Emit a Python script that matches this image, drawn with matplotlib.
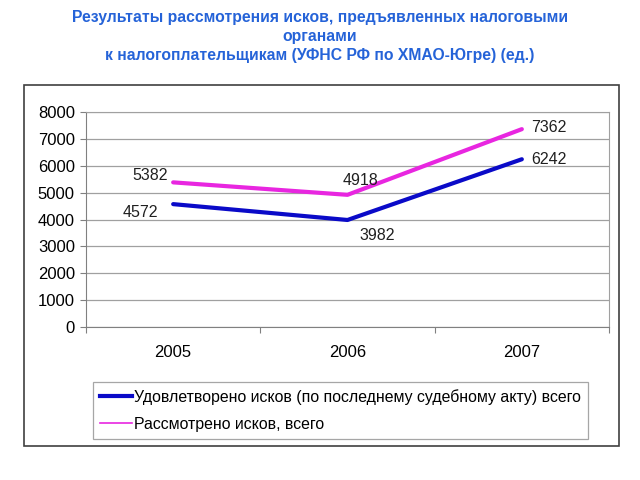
import matplotlib
matplotlib.use('Agg')
import matplotlib.pyplot as plt
from matplotlib.lines import Line2D
from matplotlib.patches import Rectangle

plt.rcParams['font.family'] = ['Liberation Sans', 'DejaVu Sans']

years = ['2005', '2006', '2007']
satisfied = [4572, 3982, 6242]
considered = [5382, 4918, 7362]
satisfied_name = 'Удовлетворено исков (по последнему судебному акту) всего'
considered_name = 'Рассмотрено исков, всего'
title = ('Результаты рассмотрения исков, предъявленных налоговыми\nорганами\n'
         'к налогоплательщикам (УФНС РФ по ХМАО-Югре) (ед.)')

blue = '#0a0ac8'
pink = '#e826e0'

fig = plt.figure(figsize=(6.4, 4.8), dpi=100)
fig.text(0.5, 1 - 36.5 / 480, title, ha='center', va='center', color='#2563d8',
         fontsize=11.3, fontweight='bold', linespacing=1.32)

# outer chart frame
fig.patches.append(Rectangle((24 / 640, 1 - 446 / 480), 595 / 640, 361 / 480,
                             transform=fig.transFigure, fill=False,
                             edgecolor='#404040', linewidth=1.2))

ax = fig.add_axes([86 / 640, 1 - 327 / 480, 523 / 640, 215 / 480])
x = [i + 0.5 for i in range(len(years))]
ax.plot(x, satisfied, color=blue, lw=3, solid_capstyle='round')
ax.plot(x, considered, color=pink, lw=3, solid_capstyle='round')

ax.set_xlim(0, 3)
ax.set_ylim(0, 8000)
ax.set_yticks(range(0, 8001, 1000))
ax.set_xticks([0, 1, 2, 3])
ax.set_xticklabels([])
ax.set_xticks(x, minor=True)
ax.set_xticklabels(years, minor=True)
ax.tick_params(axis='x', which='minor', length=0, pad=13, labelsize=12)
ax.tick_params(axis='x', which='major', length=4, color='#808080')
ax.tick_params(axis='y', length=4, color='#808080', labelsize=12, pad=4)
ax.grid(axis='y', color='#a0a0a0', lw=0.9)
ax.set_axisbelow(True)
for side in ['top', 'right']:
    ax.spines[side].set_color('#a0a0a0')
for side in ['left', 'bottom']:
    ax.spines[side].set_color('#808080')

offs_sat = [(-11, -6), (8.5, -11.5), (7, 0)]
offs_con = [(-3.5, 5), (-3.5, 10), (7, 1.5)]
for xi, v, o in zip(x, satisfied, offs_sat):
    ax.annotate(str(v), (xi, v), xytext=o, textcoords='offset points',
                ha='right' if o[0] < -5 else 'left', va='center', fontsize=11.5,
                color='#202020')
for i, (xi, v, o) in enumerate(zip(x, considered, offs_con)):
    ax.annotate(str(v), (xi, v), xytext=o, textcoords='offset points',
                ha='right' if i == 0 else 'left', va='center', fontsize=11.5,
                color='#202020')

handles = [Line2D([], [], color=blue, lw=3), Line2D([], [], color=pink, lw=1.2)]
leg = fig.legend(handles, [satisfied_name, considered_name], loc='upper left',
                 bbox_to_anchor=(93 / 640, 1 - 382 / 480), fontsize=11.4,
                 frameon=True, fancybox=False, edgecolor='#909090',
                 handlelength=2.0, handletextpad=0.15, borderaxespad=0,
                 labelspacing=0.75, borderpad=0.45)
leg.get_frame().set_linewidth(0.9)

fig.savefig('out.png', dpi=100)
